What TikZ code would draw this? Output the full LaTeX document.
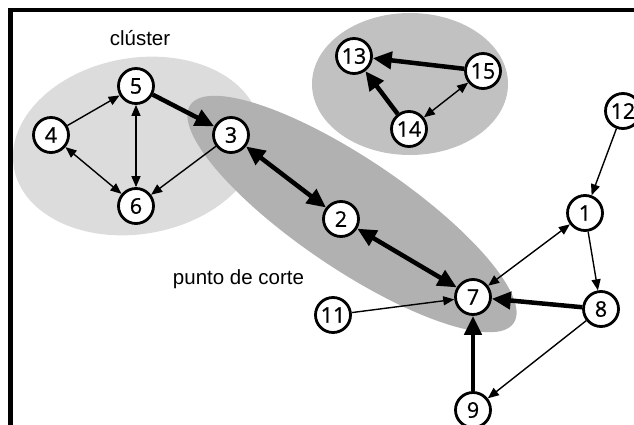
\documentclass[tikz,border=0pt]{standalone}
\usepackage{fontspec}
\setsansfont{Liberation Sans}
\newfontfamily\numfont[BoldFont={Open Sans},BoldFeatures={FakeBold=0.9}]{Open Sans}
\usetikzlibrary{arrows.meta}
\definecolor{lightc}{RGB}{220,220,220}
\definecolor{midc}{RGB}{193,193,193}
\definecolor{darkc}{RGB}{177,177,177}
\begin{document}
\begin{tikzpicture}[x=1pt,y=-1pt,
  vtx/.style={circle,draw=black,fill=white,line width=2.8pt,minimum size=35pt,inner sep=0pt,font=\numfont\bfseries\fontsize{21.5}{21.5}\selectfont},
  thinarr/.style={line width=1.4pt,-{Triangle[length=11pt,width=9pt]}},
  thinboth/.style={line width=1.4pt,{Triangle[length=11pt,width=9pt]}-{Triangle[length=11pt,width=9pt]}},
  thickarr/.style={line width=4.5pt,-{Triangle[length=19pt,width=17pt]}},
  thickboth/.style={line width=4.5pt,{Triangle[length=19pt,width=17pt]}-{Triangle[length=19pt,width=17pt]}},
  lbl/.style={font=\sffamily\fontsize{20.5}{20.5}\selectfont,anchor=base,inner sep=0pt}
]
\useasboundingbox (0,0) rectangle (634,425);
% clusters
\fill[lightc, rotate around={10:(137,146)}] (137,146) ellipse [x radius=125, y radius=88];
\fill[midc] (410,84) ellipse [x radius=98, y radius=71];
\fill[darkc, rotate around={-34:(352,214)}] (352,214) ellipse [x radius=195, y radius=55];
% labels
\node[lbl] (lclu) at (140,46) {clúster};
\node[lbl] (lcut) at (238.5,284) {punto de corte};
% vertices
\node[vtx] (n1) at (585,213) {1};
\node[vtx] (n2) at (341,219) {2};
\node[vtx] (n3) at (231,135) {3};
\node[vtx] (n4) at (51,135) {4};
\node[vtx] (n5) at (136,86) {5};
\node[vtx] (n6) at (136,206) {6};
\node[vtx] (n7) at (473,297) {7};
\node[vtx] (n8) at (601,309) {8};
\node[vtx] (n9) at (473,410) {9};
\node[vtx] (n11) at (333,315) {11};
\node[vtx] (n12) at (623,111) {12};
\node[vtx] (n13) at (354,56) {13};
\node[vtx] (n14) at (409,129) {14};
\node[vtx] (n15) at (483,71) {15};
% edges
\draw[thinarr] (n4) -- (n5);
\draw[thinboth] (n4) -- (n6);
\draw[thinboth] (n5) -- (n6);
\draw[thinarr] (n3) -- (n6);
\draw[thickarr] (n5) -- (n3);
\draw[thickboth] (n3) -- (n2);
\draw[thickboth] (n2) -- (n7);
\draw[thickarr] (n15) -- (n13);
\draw[thickarr] (n14) -- (n13);
\draw[thinboth] (n14) -- (n15);
\draw[thinarr] (n12) -- (n1);
\draw[thinboth] (n1) -- (n7);
\draw[thinarr] (n1) -- (n8);
\draw[thickarr] (n8) -- (n7);
\draw[thinarr] (n8) -- (n9);
\draw[thickarr] (n9) -- (n7);
\draw[thinarr] (n11) -- (n7);
% frame
\coordinate (fbl) at (10.5,425);
\coordinate (ftl) at (10.5,10);
\coordinate (ftr) at (634,10);
\draw[line width=4.5pt] (fbl) -- (ftl) -- (ftr);
\end{tikzpicture}
\end{document}
